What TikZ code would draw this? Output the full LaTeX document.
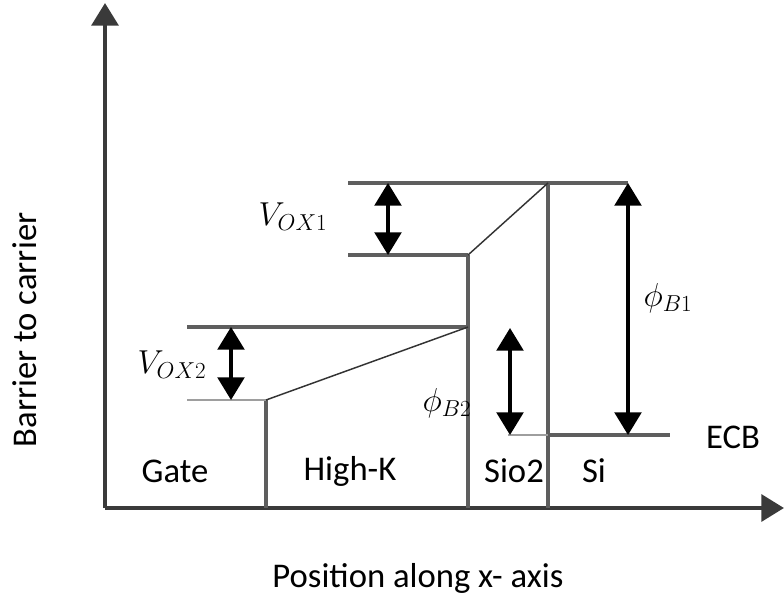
\documentclass[tikz,border=0pt]{standalone}
\usepackage{fontspec}
\setmainfont{Carlito}
\usetikzlibrary{arrows.meta,positioning}
\definecolor{axisgray}{HTML}{3A3A3A}
\definecolor{levelgray}{HTML}{5E5E5E}
\tikzset{
  axisline/.style={draw=axisgray,line width=3.2pt,-{Triangle[width=20pt,length=17pt]}},
  level/.style={draw=levelgray,line width=2.6pt},
  thinlevel/.style={draw=levelgray!60,line width=1.2pt},
  slant/.style={draw=black!80,line width=1.1pt},
  gap/.style={draw=black,line width=2.6pt,{Triangle[width=20pt,length=17pt]}-{Triangle[width=20pt,length=17pt]}},
  lbl/.style={font=\fontsize{26}{30}\selectfont,inner sep=0pt}
}
\begin{document}
\begin{tikzpicture}[x=0.75pt,y=0.75pt,yscale=-1,xscale=1]
    \useasboundingbox (0,0) rectangle (784,603);

    %Coordinates of the band edges
    \coordinate (O) at (105,508);
    \coordinate (ytip) at (105,3);
    \coordinate (xtip) at (784,508);
    \coordinate (gatetop) at (266,400);
    \coordinate (gatebot) at (266,508);
    \coordinate (hkhi) at (468,255);
    \coordinate (hkmid) at (468,327);
    \coordinate (hkbot) at (468,508);
    \coordinate (oxtop) at (548,183);
    \coordinate (oxlow) at (548,435);
    \coordinate (oxbot) at (548,508);
    \coordinate (top1l) at (348,183);
    \coordinate (top1r) at (628,183);
    \coordinate (top2l) at (348,255);
    \coordinate (mid1l) at (187,327);
    \coordinate (mid2l) at (187,400);
    \coordinate (ecbl) at (508,435);
    \coordinate (ecbr) at (670,435);

    %Axes
    \draw [axisline] (O) -- (ytip);
    \draw [axisline] (O) -- (xtip);

    %Straight Lines - interfaces
    \draw [level] (gatetop) -- (gatebot);
    \draw [level] (hkhi) -- (hkbot);
    \draw [level] (oxtop) -- (oxbot);

    %Straight Lines - levels
    \draw [level] (top1l) -- (top1r);
    \draw [level] (top2l) -- (hkhi);
    \draw [level] (mid1l) -- (hkmid);
    \draw [thinlevel] (mid2l) -- (gatetop);
    \draw [thinlevel] (ecbl) -- (oxlow);
    \draw [level] (oxlow) -- (ecbr);

    %Slopes across the dielectrics
    \draw [slant] (gatetop) -- (hkmid);
    \draw [slant] (hkhi) -- (oxtop);

    %Arrows
    \draw [gap] (388,183) -- (388,255);
    \draw [gap] (231,327) -- (231,400);
    \draw [gap] (top1r) -- (628,435);
    \draw [gap] (510,328) -- (510,435);

    % Text Node
    \node [lbl] (vox1) at (293,217) {$V_{OX1}$};
    \node [lbl] (vox2) at (172,365) {$V_{OX2}$};
    \node [lbl] (phib1) at (668,298) {$\phi_{B1}$};
    \node [lbl] (phib2) at (447,403) {$\phi_{B2}$};
    \node [lbl] (gate) at (175,471) {Gate};
    \node [lbl] (highk) at (350,471) {High-K};
    \node [lbl] (sio2) at (514,471) {Sio2};
    \node [lbl] (si) at (594,471) {Si};
    \node [lbl] (ecb) at (733,437) {ECB};
    \node [lbl,rotate=90] (ylabel) at (25,330) {Barrier to carrier};
    \node [lbl] (xlabel) at (418,578) {Position along x- axis};

\end{tikzpicture}
\end{document}
